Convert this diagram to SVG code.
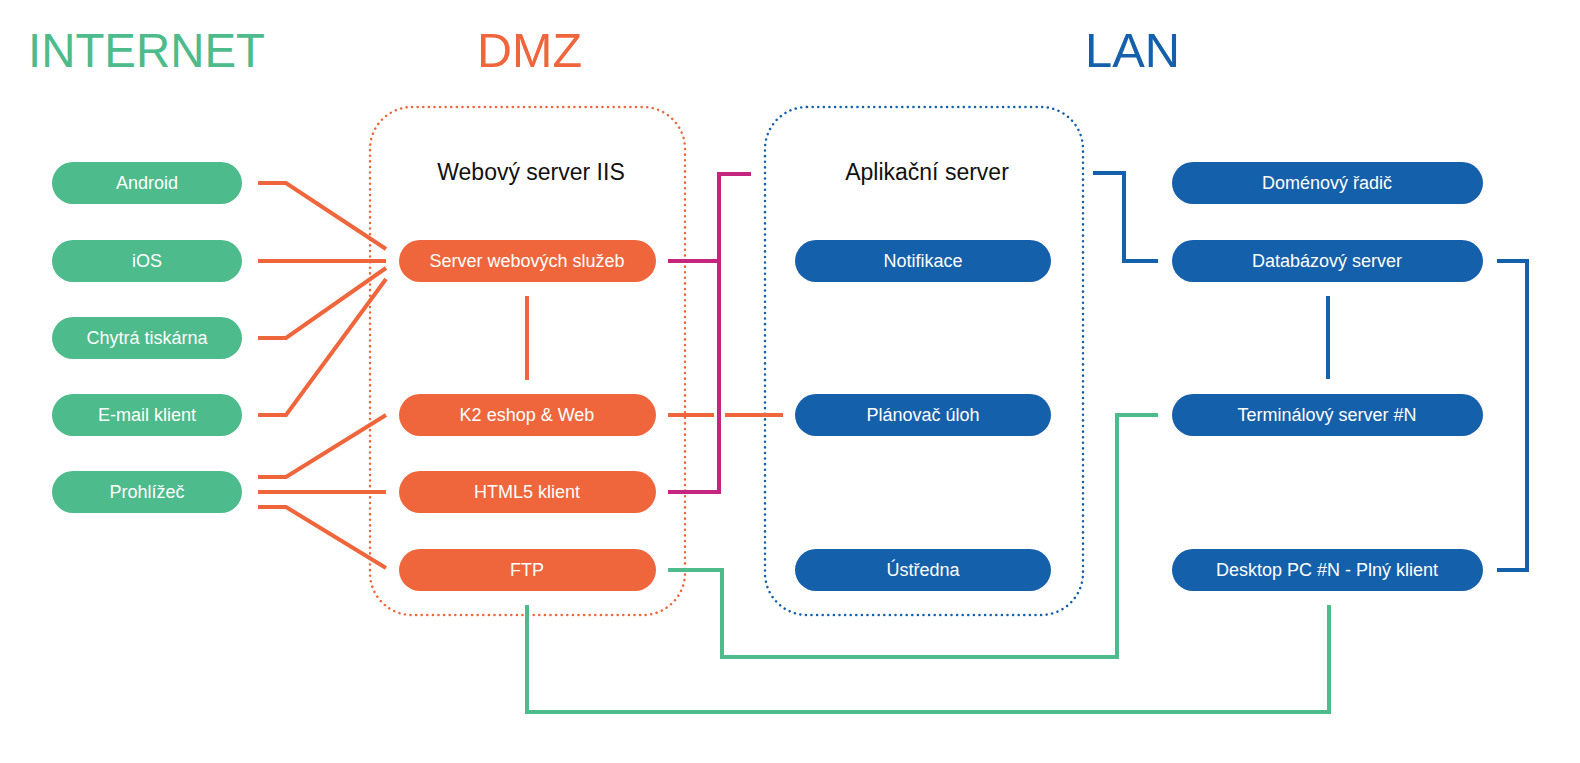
<svg xmlns="http://www.w3.org/2000/svg" width="1580" height="763" viewBox="0 0 1580 763">
<style>
.title{font-family:"Liberation Sans",Arial,sans-serif;font-size:48px}
.lbl{font-family:"Liberation Sans",Arial,sans-serif;font-size:18px;fill:#fff;text-anchor:middle}
.hdr{font-family:"Liberation Sans",Arial,sans-serif;font-size:23px;fill:#111;text-anchor:middle}
.g{fill:#4dbb8b}.o{fill:#ef663c}.b{fill:#1560aa}
.c{fill:none;stroke-width:4;stroke-linejoin:miter}
.co{stroke:#ef663c}.cg{stroke:#4dbb8b}.cb{stroke:#1560aa}.cm{stroke:#c4267f}
.box{fill:none;stroke-width:2.5;stroke-dasharray:0.1 5.5;stroke-linecap:round}
</style>
<rect width="1580" height="763" fill="#fff"/>
<g id="titles">
<text class="title" x="28" y="67" fill="#4dbb8b" textLength="237" lengthAdjust="spacingAndGlyphs">INTERNET</text>
<text class="title" x="477" y="67" fill="#ef663c" textLength="105" lengthAdjust="spacingAndGlyphs">DMZ</text>
<text class="title" x="1085" y="67" fill="#1560aa" textLength="95" lengthAdjust="spacingAndGlyphs">LAN</text>
</g>
<g id="dmz-box"><rect class="box" x="370" y="107" width="315" height="508" rx="42" stroke="#ef663c"/><text class="hdr" x="531" y="180">Webový server IIS</text></g>
<g id="app-box"><rect class="box" x="765" y="107" width="318" height="508" rx="42" stroke="#1560aa"/><text class="hdr" x="927" y="180">Aplikační server</text></g>
<g id="connectors">
<polyline class="c co" points="258,183 286,183 386,249"/>
<polyline class="c co" points="258,261 386,261"/>
<polyline class="c co" points="258,338 286,338 386,268"/>
<polyline class="c co" points="258,415 286,415 386,279"/>
<polyline class="c co" points="258,477 286,477 386,415"/>
<polyline class="c co" points="258,492 386,492"/>
<polyline class="c co" points="258,507 286,507 386,568"/>
<polyline class="c co" points="527,296 527,380"/>
<polyline class="c co" points="668,415 714,415"/>
<polyline class="c co" points="725,415 783,415"/>
<polyline class="c cm" points="668,261 719,261"/>
<polyline class="c cm" points="751,174 719,174 719,492 668,492"/>
<polyline class="c cb" points="1093,173 1124,173 1124,261 1158,261"/>
<polyline class="c cb" points="1497,261 1527,261 1527,570 1497,570"/>
<polyline class="c cb" points="1328,296 1328,379"/>
<polyline class="c cg" points="668,570 722,570 722,657 1117,657 1117,415 1158,415"/>
<polyline class="c cg" points="527,605 527,712 1329,712 1329,605"/>
</g>
<g id="android"><rect class="g" x="52" y="162" width="190" height="42" rx="21"/><text class="lbl" x="147" y="189">Android</text></g>
<g id="ios"><rect class="g" x="52" y="240" width="190" height="42" rx="21"/><text class="lbl" x="147" y="267">iOS</text></g>
<g id="tiskarna"><rect class="g" x="52" y="317" width="190" height="42" rx="21"/><text class="lbl" x="147" y="344">Chytrá tiskárna</text></g>
<g id="email"><rect class="g" x="52" y="394" width="190" height="42" rx="21"/><text class="lbl" x="147" y="421">E-mail klient</text></g>
<g id="prohlizec"><rect class="g" x="52" y="471" width="190" height="42" rx="21"/><text class="lbl" x="147" y="498">Prohlížeč</text></g>
<g id="webservices"><rect class="o" x="399" y="240" width="257" height="42" rx="21"/><text class="lbl" x="527" y="267">Server webových služeb</text></g>
<g id="k2eshop"><rect class="o" x="399" y="394" width="257" height="42" rx="21"/><text class="lbl" x="527" y="421">K2 eshop &amp; Web</text></g>
<g id="html5"><rect class="o" x="399" y="471" width="257" height="42" rx="21"/><text class="lbl" x="527" y="498">HTML5 klient</text></g>
<g id="ftp"><rect class="o" x="399" y="549" width="257" height="42" rx="21"/><text class="lbl" x="527" y="576">FTP</text></g>
<g id="notifikace"><rect class="b" x="795" y="240" width="256" height="42" rx="21"/><text class="lbl" x="923" y="267">Notifikace</text></g>
<g id="planovac"><rect class="b" x="795" y="394" width="256" height="42" rx="21"/><text class="lbl" x="923" y="421">Plánovač úloh</text></g>
<g id="ustredna"><rect class="b" x="795" y="549" width="256" height="42" rx="21"/><text class="lbl" x="923" y="576">Ústředna</text></g>
<g id="domena"><rect class="b" x="1172" y="162" width="311" height="42" rx="21"/><text class="lbl" x="1327" y="189">Doménový řadič</text></g>
<g id="databaze"><rect class="b" x="1172" y="240" width="311" height="42" rx="21"/><text class="lbl" x="1327" y="267">Databázový server</text></g>
<g id="terminal"><rect class="b" x="1172" y="394" width="311" height="42" rx="21"/><text class="lbl" x="1327" y="421">Terminálový server #N</text></g>
<g id="desktop"><rect class="b" x="1172" y="549" width="311" height="42" rx="21"/><text class="lbl" x="1327" y="576">Desktop PC #N - Plný klient</text></g>
</svg>
